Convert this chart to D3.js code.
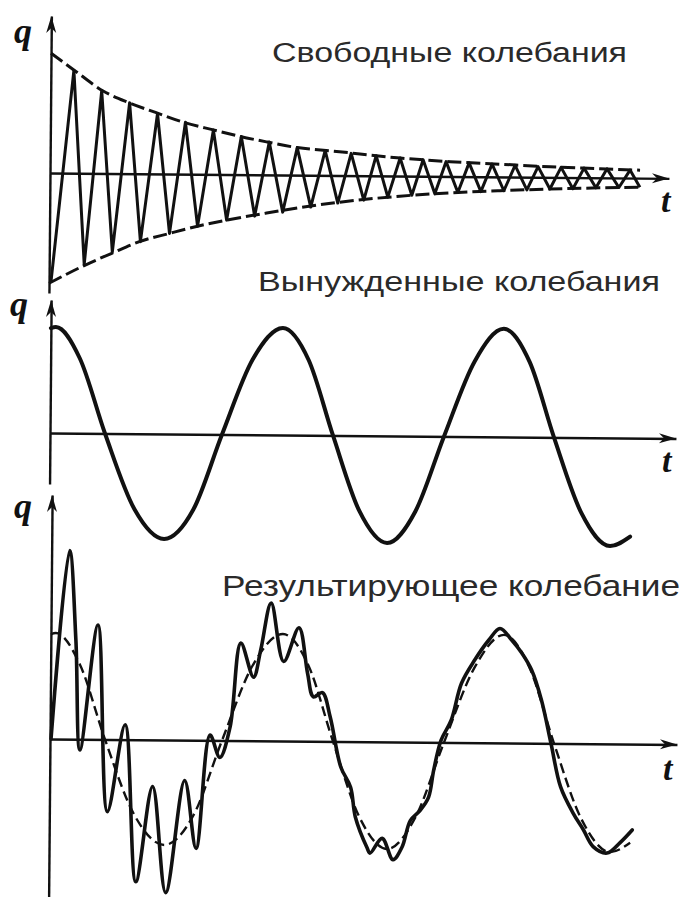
<!DOCTYPE html>
<html><head><meta charset="utf-8">
<script src="https://cdn.jsdelivr.net/npm/d3@7"></script>
<style>html,body{margin:0;padding:0;background:#fff;}svg{display:block;}</style>
</head><body>
<svg id="c" width="682" height="897"></svg>
<script>
// ---------- DATA (t in arbitrary time units, q in arbitrary charge units) ----------
const titles = ["Свободные колебания", "Вынужденные колебания", "Результирующее колебание"];
const labelQ = "q";
const labelT = "t";

// Free (damped) oscillation: dashed envelope
const freeEnvUpper = [[0,1.13],[0.25,0.96],[0.52,0.78],[0.78,0.67],[1.05,0.58],[1.33,0.49],[1.63,0.42],[1.9,0.36],[2.17,0.31],[2.47,0.26],[2.83,0.23],[3.5,0.17],[4.0,0.14],[4.5,0.12],[5.0,0.10],[5.5,0.085],[5.9,0.075]];
const freeEnvLower = [[0,-1.04],[0.35,-0.87],[0.63,-0.75],[0.9,-0.64],[1.2,-0.56],[1.48,-0.49],[1.77,-0.43],[2.17,-0.36],[2.83,-0.26],[3.5,-0.19],[4.0,-0.155],[4.5,-0.13],[5.0,-0.11],[5.5,-0.095],[5.9,-0.085]];
// Free oscillation: successive extrema (zig-zag)
const freeExtrema = [[0.02,-1.02],
 [0.23,0.97],[0.35,-0.86],[0.51,0.78],[0.63,-0.74],[0.79,0.67],[0.91,-0.64],[1.07,0.57],[1.20,-0.56],
 [1.35,0.49],[1.48,-0.49],[1.63,0.42],[1.77,-0.43],[1.91,0.36],[2.05,-0.39],[2.19,0.31],[2.33,-0.35],
 [2.47,0.26],[2.61,-0.30],[2.75,0.235],[2.88,-0.26],[3.01,0.21],[3.14,-0.23],[3.26,0.19],[3.38,-0.20],
 [3.50,0.17],[3.62,-0.18],[3.73,0.155],[3.85,-0.165],[3.96,0.14],[4.08,-0.15],[4.19,0.13],[4.31,-0.14],
 [4.42,0.12],[4.54,-0.13],[4.65,0.11],[4.77,-0.12],[4.88,0.10],[5.00,-0.11],[5.11,0.095],[5.23,-0.105],
 [5.34,0.09],[5.46,-0.095],[5.57,0.085],[5.69,-0.09],[5.80,0.075],[5.90,-0.085]];

// Forced oscillation
const forcedPoints = [[0,0.99],[0.05,1.0],[0.29,0.71],[0.55,0],[0.85,-0.71],[1.15,-0.99],[1.44,-0.71],[1.72,0],
 [2.02,0.71],[2.32,1.01],[2.58,0.71],[2.83,0],[3.10,-0.71],[3.38,-1.01],[3.66,-0.71],[3.94,0],
 [4.24,0.71],[4.53,1.02],[4.79,0.71],[5.04,0],[5.32,-0.71],[5.61,-1.02],[5.81,-0.93]];

// Resultant oscillation
const resultantPoints = [[0.01,0.0],[0.18,1.78],[0.25,0.94],[0.30,-0.10],[0.47,1.08],[0.58,-0.68],[0.75,0.14],
 [0.87,-1.34],[1.03,-0.44],[1.17,-1.44],[1.35,-0.38],[1.47,-1.02],[1.60,0.05],[1.70,-0.16],[1.80,0.13],
 [1.90,0.92],[2.03,0.60],[2.10,0.86],[2.20,1.30],[2.33,0.75],[2.48,1.07],[2.57,0.64],[2.63,0.42],
 [2.72,0.46],[2.80,0.23],[2.91,-0.24],[3.01,-0.43],[3.06,-0.71],[3.18,-1.00],[3.21,-1.05],[3.33,-0.91],
 [3.44,-1.11],[3.53,-0.99],[3.61,-0.74],[3.71,-0.64],[3.79,-0.52],[3.84,-0.26],[3.91,0.02],[4.01,0.21],
 [4.11,0.56],[4.24,0.78],[4.38,0.97],[4.49,1.08],[4.61,0.97],[4.71,0.85],[4.81,0.69],[4.91,0.41],
 [5.01,0.0],[5.11,-0.41],[5.24,-0.66],[5.34,-0.81],[5.44,-0.97],[5.58,-1.03],[5.71,-0.93],[5.83,-0.81]];

// ---------- LAYOUT ----------
const svg = d3.select("#c");
const x = d3.scaleLinear().domain([0, 6.3]).range([50, 680]);
const UNIT = 106;
const makeY = zero => d3.scaleLinear().domain([-1, 1]).range([zero + UNIT, zero - UNIT]);
const TILT = 0.5;
const INK = "#111";

const panels = [
  {zero:173, top:16, bottom:293, tEnd:6.19, title:titles[0], tx:272, tw:355, ty:62, fs:27, qx:14, qy:43, tlx:661, tly:212},
  {zero:433, top:300, bottom:484, tEnd:6.26, title:titles[1], tx:258, tw:402, ty:291, fs:28, qx:10, qy:316, tlx:662, tly:472},
  {zero:739, top:495, bottom:897, tEnd:6.27, title:titles[2], tx:222, tw:458, ty:596, fs:29, qx:14, qy:518, tlx:663, tly:780}
];

panels.forEach((p, i) => {
  const y = makeY(p.zero);
  const g = svg.append("g").attr("transform", `rotate(${TILT},50,${p.zero})`);
  // x axis
  const xa = x.copy().domain([0, p.tEnd]).range([x(0), x(p.tEnd)]);
  g.append("g").attr("transform", `translate(0,${y(0)})`)
    .call(d3.axisBottom(xa).tickValues([]).tickSizeOuter(0))
    .select(".domain").attr("stroke", INK).attr("stroke-width", 2.4);
  const ax = x(p.tEnd), ay = y(0);
  g.append("path").attr("d", `M${ax},${ay}L${ax-17},${ay-5}L${ax-12},${ay}L${ax-17},${ay+5}Z`).attr("fill", INK);
  // y axis
  const ya = y.copy().domain([y.invert(p.bottom), y.invert(p.top)]).range([p.bottom, p.top]);
  g.append("g").attr("transform", `translate(${x(0)},0)`)
    .call(d3.axisLeft(ya).tickValues([]).tickSizeOuter(0))
    .select(".domain").attr("stroke", INK).attr("stroke-width", 2.4);
  const bx = x(0), by = p.top;
  g.append("path").attr("d", `M${bx},${by}L${bx-5},${by+17}L${bx},${by+12}L${bx+5},${by+17}Z`).attr("fill", INK);

  const line = d3.line().x(d => x(d[0])).y(d => y(d[1]));
  if (i === 0) {
    const env = line.curve(d3.curveMonotoneX);
    [freeEnvUpper, freeEnvLower].forEach(arr => {
      g.append("path").attr("d", env(arr)).attr("fill", "none").attr("stroke", INK)
        .attr("stroke-width", 3).attr("stroke-dasharray", "14,5");
    });
    g.append("path").attr("d", d3.line().x(d => x(d[0])).y(d => y(d[1])).curve(d3.curveLinear)(freeExtrema))
      .attr("fill", "none").attr("stroke", INK).attr("stroke-width", 3).attr("stroke-linejoin", "round");
  } else if (i === 1) {
    g.append("path").attr("d", line.curve(d3.curveMonotoneX)(forcedPoints))
      .attr("fill", "none").attr("stroke", INK).attr("stroke-width", 4).attr("stroke-linecap", "round");
  } else {
    g.append("path").attr("d", d3.line().x(d => x(d[0])).y(d => y(d[1])).curve(d3.curveMonotoneX)(forcedPoints))
      .attr("fill", "none").attr("stroke", INK).attr("stroke-width", 2.4).attr("stroke-dasharray", "10,5");
    g.append("path").attr("d", d3.line().x(d => x(d[0])).y(d => y(d[1])).curve(d3.curveCatmullRom.alpha(0.5))(resultantPoints))
      .attr("fill", "none").attr("stroke", INK).attr("stroke-width", 3.6).attr("stroke-linejoin", "round").attr("stroke-linecap", "round");
  }

  // title
  svg.append("text").attr("x", p.tx).attr("y", p.ty).text(p.title)
    .attr("font-family", "'Liberation Sans', Arial, sans-serif").attr("font-size", p.fs)
    .attr("fill", "#2a2a2a").attr("textLength", p.tw).attr("lengthAdjust", "spacingAndGlyphs");
  // axis labels
  svg.append("text").attr("x", p.qx).attr("y", p.qy).text(labelQ)
    .attr("font-family", "'Liberation Serif', 'DejaVu Serif', serif").attr("font-style", "italic")
    .attr("font-weight", "bold").attr("font-size", 36).attr("fill", INK);
  svg.append("text").attr("x", p.tlx).attr("y", p.tly).text(labelT)
    .attr("font-family", "'Liberation Serif', 'DejaVu Serif', serif").attr("font-style", "italic")
    .attr("font-weight", "bold").attr("font-size", 34).attr("fill", INK);
});
</script>
</body></html>
